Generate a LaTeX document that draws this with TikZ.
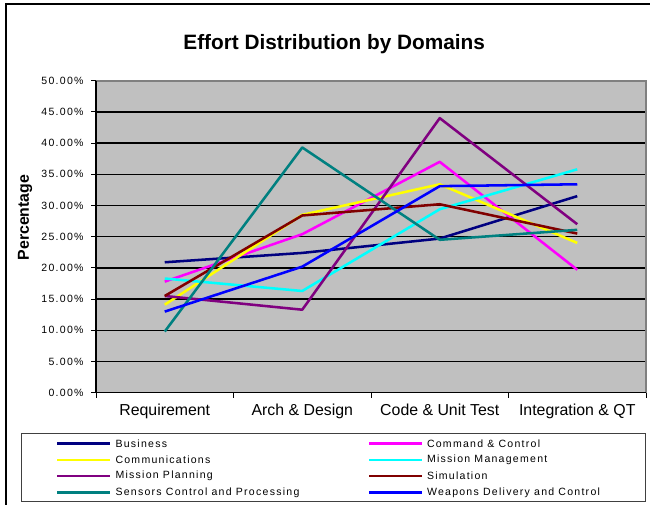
\documentclass[tikz,border=0pt]{standalone}
\usepackage{fontspec}
\setmainfont{Liberation Sans}
\newfontfamily\xlfont[LetterSpace=12]{Liberation Sans}

\definecolor{xlnavy}{RGB}{0,0,128}
\definecolor{xlmagenta}{RGB}{255,0,255}
\definecolor{xlyellow}{RGB}{255,255,0}
\definecolor{xlcyan}{RGB}{0,255,255}
\definecolor{xlpurple}{RGB}{128,0,128}
\definecolor{xlmaroon}{RGB}{128,0,0}
\definecolor{xlteal}{RGB}{0,128,128}
\definecolor{xlblue}{RGB}{0,0,255}
\definecolor{xlsilver}{RGB}{192,192,192}
\definecolor{xlgray}{RGB}{128,128,128}

\tikzset{every picture/.style={line width=0.75pt}}
\tikzset{
  series/.style={line width=1.9pt, line join=round},
  gridline/.style={line width=1pt, color=black},
  ticklabel/.style={anchor=east, inner sep=0.75pt, font=\xlfont\fontsize{7.9}{9}\selectfont},
  catlabel/.style={anchor=base, inner sep=0.75pt, font=\fontsize{11.9}{14}\selectfont},
  keytext/.style={anchor=west, inner sep=0.75pt, font=\xlfont\fontsize{7.9}{9}\selectfont},
}

\begin{document}
\begin{tikzpicture}[x=0.75pt,y=0.75pt,yscale=-1,xscale=1]
\useasboundingbox (0,0) rectangle (650,505);
\clip (0,0) rectangle (650,505);

%Chart frame
\draw [line width=1.2]  (6,520) -- (6,4) -- (660,4) ;

%Plot area
\fill [xlsilver] (96,80.7) rectangle (646,392.7) ;

% values in percent from here on
\begin{scope}[shift={(0,392.7)}, yscale=-6.24]

%Grid lines
\draw [gridline] (96,5) -- (646,5) ;
\draw [gridline] (96,10) -- (646,10) ;
\draw [gridline] (96,15) -- (646,15) ;
\draw [gridline] (96,20) -- (646,20) ;
\draw [gridline] (96,25) -- (646,25) ;
\draw [gridline] (96,30) -- (646,30) ;
\draw [gridline] (96,35) -- (646,35) ;
\draw [gridline] (96,40) -- (646,40) ;
\draw [gridline] (96,45) -- (646,45) ;

%Plot border
\draw [line width=1.5, color=xlgray] (96,50) -- (646,50) -- (646,0) ;

%Axes
\draw [line width=1.2] (96,50) -- (96,0) -- (646,0) ;

%Ticks
\draw (91,0) -- (96,0) ;
\draw (91,5) -- (96,5) ;
\draw (91,10) -- (96,10) ;
\draw (91,15) -- (96,15) ;
\draw (91,20) -- (96,20) ;
\draw (91,25) -- (96,25) ;
\draw (91,30) -- (96,30) ;
\draw (91,35) -- (96,35) ;
\draw (91,40) -- (96,40) ;
\draw (91,45) -- (96,45) ;
\draw (91,50) -- (96,50) ;
\draw (96,0) -- (96,-0.8) ;
\draw (233.5,0) -- (233.5,-0.8) ;
\draw (371,0) -- (371,-0.8) ;
\draw (508.5,0) -- (508.5,-0.8) ;
\draw (646,0) -- (646,-0.8) ;

% Text Node
\node [ticklabel] (t0) at (85,0) {0.00\%};
\node [ticklabel] (t5) at (85,5) {5.00\%};
\node [ticklabel] (t10) at (85,10) {10.00\%};
\node [ticklabel] (t15) at (85,15) {15.00\%};
\node [ticklabel] (t20) at (85,20) {20.00\%};
\node [ticklabel] (t25) at (85,25) {25.00\%};
\node [ticklabel] (t30) at (85,30) {30.00\%};
\node [ticklabel] (t35) at (85,35) {35.00\%};
\node [ticklabel] (t40) at (85,40) {40.00\%};
\node [ticklabel] (t45) at (85,45) {45.00\%};
\node [ticklabel] (t50) at (85,50) {50.00\%};

%Series: Business
\draw [series, xlnavy] (164.75,20.9) -- (302.25,22.4) -- (439.75,24.7) -- (577.25,31.5) ;
%Series: Command & Control
\draw [series, xlmagenta] (164.75,17.8) -- (302.25,25.4) -- (439.75,37.0) -- (577.25,19.7) ;
%Series: Communications
\draw [series, xlyellow] (164.75,14.1) -- (302.25,28.5) -- (439.75,33.4) -- (577.25,24.0) ;
%Series: Mission Management
\draw [series, xlcyan] (164.75,18.3) -- (302.25,16.3) -- (439.75,29.4) -- (577.25,35.8) ;
%Series: Mission Planning
\draw [series, xlpurple] (164.75,15.5) -- (302.25,13.3) -- (439.75,44.0) -- (577.25,27.0) ;
%Series: Simulation
\draw [series, xlmaroon] (164.75,15.5) -- (302.25,28.4) -- (439.75,30.2) -- (577.25,25.5) ;
%Series: Sensors Control and Processing
\draw [series, xlteal] (164.75,9.8) -- (302.25,39.3) -- (439.75,24.5) -- (577.25,26.1) ;
%Series: Weapons Delivery and Control
\draw [series, xlblue] (164.75,13.0) -- (302.25,20.2) -- (439.75,33.1) -- (577.25,33.4) ;

\end{scope}

% Text Node
\node [anchor=base, inner sep=0.75pt, font=\fontsize{15.6}{18}\selectfont\bfseries] (title) at (334.2,49.3) {Effort Distribution by Domains};
% Text Node
\node [rotate=90, inner sep=0.75pt, font=\fontsize{11.9}{14}\selectfont\bfseries] (ylab) at (25,217.5) {Percentage};
% Text Node
\node [catlabel] (c1) at (164.75,415.7) {Requirement};
\node [catlabel] (c2) at (302.25,415.7) {Arch \& Design};
\node [catlabel] (c3) at (439.75,415.7) {Code \& Unit Test};
\node [catlabel] (c4) at (577.25,415.7) {Integration \& QT};

%Legend
\draw [color={rgb, 255:red, 64; green, 64; blue, 64}] (21,434) rectangle (645,502) ;
\draw [series, xlnavy] (57,443.3) -- (110,443.3) ;
\node [keytext] (kbus) at (114,443.3) {Business};
\draw [series, xlyellow] (57,459.8) -- (110,459.8) ;
\node [keytext] (kcom) at (114,459.8) {Communications};
\draw [series, xlpurple] (57,476.2) -- (110,476.2) ;
\node [keytext] (kplan) at (114,476.2) {Mission Planning};
\draw [series, xlteal] (57,492.5) -- (110,492.5) ;
\node [keytext] (ksens) at (114,492.5) {Sensors Control and Processing};
\draw [series, xlmagenta] (369,443.3) -- (421.7,443.3) ;
\node [keytext] (kcc) at (425.5,443.3) {Command \& Control};
\draw [series, xlcyan] (369,459.8) -- (421.7,459.8) ;
\node [keytext] (kmgmt) at (425.5,459.8) {Mission Management};
\draw [series, xlmaroon] (369,476.2) -- (421.7,476.2) ;
\node [keytext] (ksim) at (425.5,476.2) {Simulation};
\draw [series, xlblue] (369,492.5) -- (421.7,492.5) ;
\node [keytext] (kweap) at (425.5,492.5) {Weapons Delivery and Control};

\end{tikzpicture}
\end{document}
